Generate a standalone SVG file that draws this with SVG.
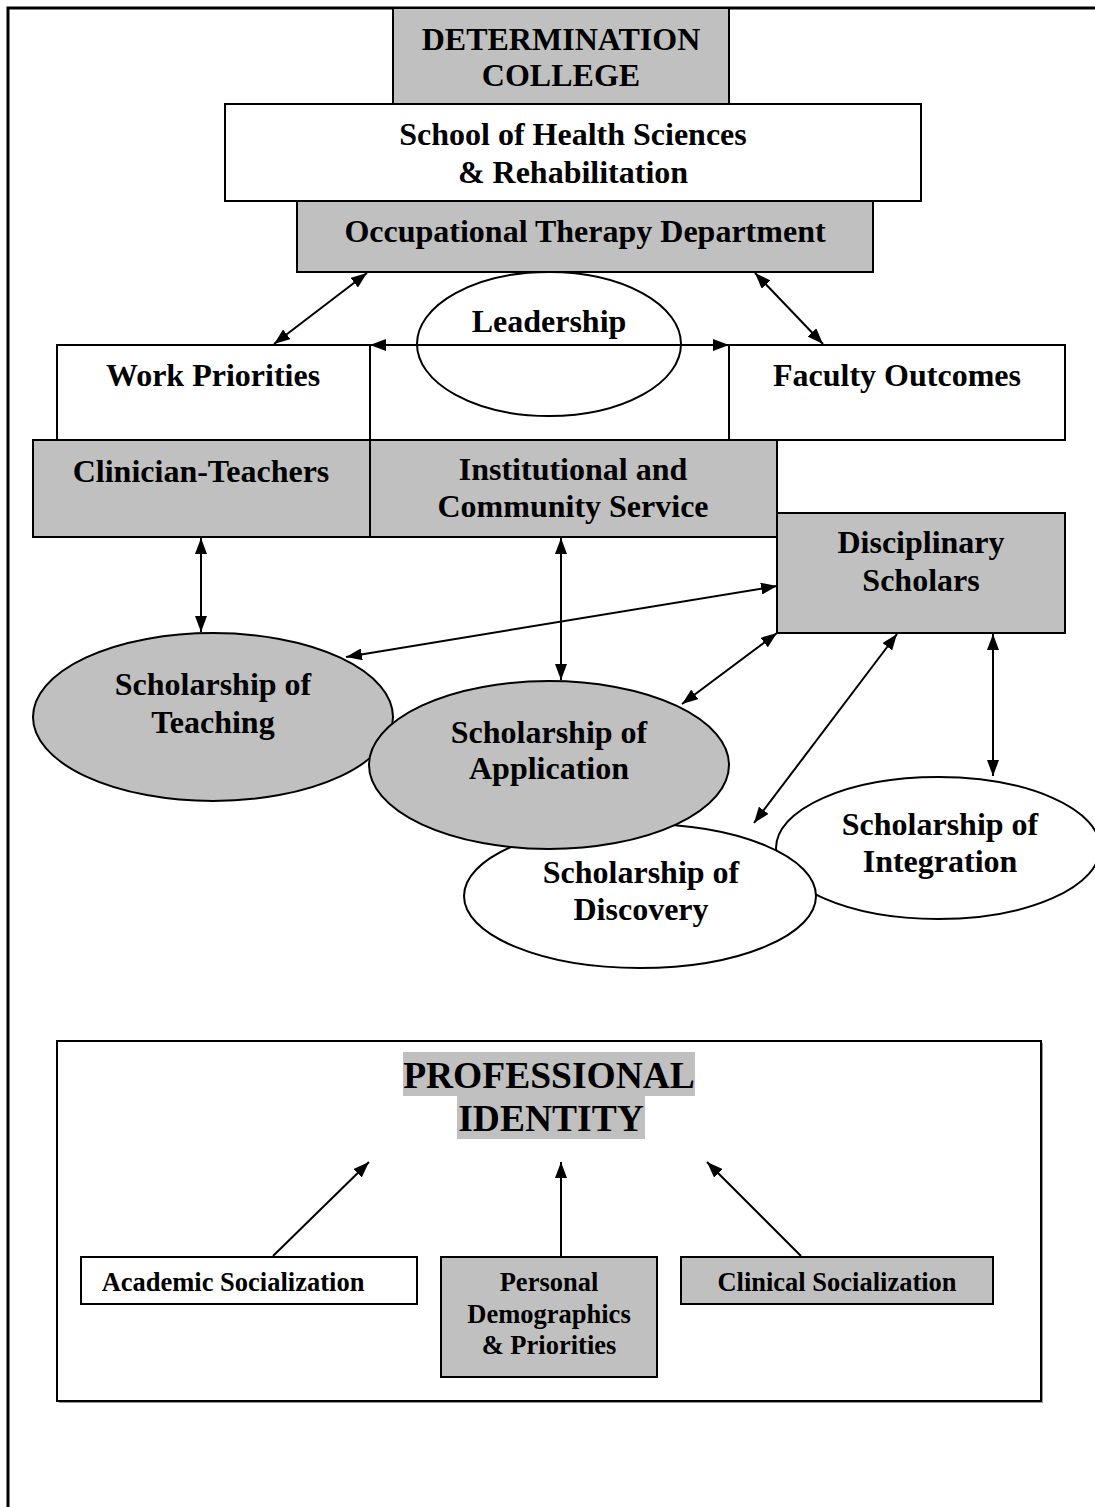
<svg xmlns="http://www.w3.org/2000/svg" width="1095" height="1507" viewBox="0 0 1095 1507">
<style>
.g{fill:#c0c0c0;stroke:#000;stroke-width:2}
.w{fill:#fff;stroke:#000;stroke-width:2}
.t{font-family:"Liberation Serif","Times New Roman",serif;font-weight:bold;font-size:32px;text-anchor:middle;fill:#000}
.s{font-size:26.5px}
.big{font-size:37.5px}
.c{stroke:#000;stroke-width:2;fill:none}
</style>
<defs>
<marker id="a" viewBox="0 0 16 12" refX="16" refY="6" markerWidth="16" markerHeight="12" markerUnits="userSpaceOnUse" orient="auto-start-reverse">
<path d="M0,0 L16,6 L0,12 z" fill="#000"/>
</marker>
</defs>
<rect width="1095" height="1507" fill="#fff"/>
<path d="M8,1507 V8 H1095" fill="none" stroke="#000" stroke-width="3"/>

<g id="college"><rect class="g" x="393" y="8" width="336" height="96"/>
<text class="t" x="561" y="50">DETERMINATION</text><text class="t" x="561" y="86">COLLEGE</text></g>
<g id="school"><rect class="w" x="225" y="104" width="696" height="97"/>
<text class="t" x="573" y="145">School of Health Sciences</text><text class="t" x="573" y="183">&amp; Rehabilitation</text></g>
<g id="otdept"><rect class="g" x="297" y="201" width="576" height="71"/>
<text class="t" x="585" y="242">Occupational Therapy Department</text></g>

<g id="workpriorities"><rect class="w" x="57" y="345" width="313" height="95"/>
<text class="t" x="213" y="386">Work Priorities</text></g>
<g id="middle"><rect class="w" x="370" y="345" width="359" height="95"/></g>
<g id="facultyoutcomes"><rect class="w" x="729" y="345" width="336" height="95"/>
<text class="t" x="897" y="386">Faculty Outcomes</text></g>
<g id="leadership"><ellipse cx="549" cy="344" rx="132" ry="72" fill="none" stroke="#000" stroke-width="2"/>
<text class="t" x="549" y="332">Leadership</text></g>

<g id="clinicianteachers"><rect class="g" x="33" y="440" width="337" height="97"/>
<text class="t" x="201" y="482">Clinician-Teachers</text></g>
<g id="service"><rect class="g" x="370" y="440" width="407" height="97"/>
<text class="t" x="573" y="480">Institutional and</text><text class="t" x="573" y="517">Community Service</text></g>
<g id="disciplinary"><rect class="g" x="777" y="513" width="288" height="120"/>
<text class="t" x="921" y="553">Disciplinary</text><text class="t" x="921" y="591">Scholars</text></g>

<g id="teaching"><ellipse class="g" cx="213" cy="717" rx="180" ry="84"/>
<text class="t" x="213" y="695">Scholarship of</text><text class="t" x="213" y="733">Teaching</text></g>
<g id="integration"><ellipse class="w" cx="938" cy="848" rx="162" ry="71"/>
<text class="t" x="940" y="835">Scholarship of</text><text class="t" x="940" y="872">Integration</text></g>
<g id="discovery"><ellipse class="w" cx="640" cy="896" rx="176" ry="72"/>
<text class="t" x="641" y="883">Scholarship of</text><text class="t" x="641" y="920">Discovery</text></g>
<g id="application"><ellipse class="g" cx="549" cy="765" rx="180" ry="84"/>
<text class="t" x="549" y="743">Scholarship of</text><text class="t" x="549" y="779">Application</text></g>

<g id="professionalidentity">
<rect x="59" y="1043" width="984" height="360" fill="#999"/>
<rect x="57" y="1041" width="984" height="360" fill="#fff" stroke="#000" stroke-width="2"/>
<rect x="403" y="1052" width="292" height="44" fill="#c0c0c0"/>
<rect x="457" y="1096" width="188" height="43" fill="#c0c0c0"/>
<text class="t big" x="549" y="1088">PROFESSIONAL</text>
<text class="t big" x="551" y="1131">IDENTITY</text>
</g>
<g id="academic"><rect class="w" x="81" y="1257" width="336" height="47"/>
<text class="t s" x="233" y="1291">Academic Socialization</text></g>
<g id="personal"><rect class="g" x="441" y="1257" width="216" height="120"/>
<text class="t s" x="549" y="1291">Personal</text><text class="t s" x="549" y="1323">Demographics</text><text class="t s" x="549" y="1354">&amp; Priorities</text></g>
<g id="clinical"><rect class="g" x="681" y="1257" width="312" height="47"/>
<text class="t s" x="837" y="1291">Clinical Socialization</text></g>

<g id="connectors">
<line class="c" x1="367" y1="273" x2="274" y2="344" marker-start="url(#a)" marker-end="url(#a)"/>
<line class="c" x1="755" y1="273" x2="823" y2="344" marker-start="url(#a)" marker-end="url(#a)"/>
<line class="c" x1="370" y1="345" x2="729" y2="345" marker-start="url(#a)" marker-end="url(#a)"/>
<line class="c" x1="201" y1="538" x2="201" y2="632" marker-start="url(#a)" marker-end="url(#a)"/>
<line class="c" x1="561" y1="538" x2="561" y2="680" marker-start="url(#a)" marker-end="url(#a)"/>
<line class="c" x1="777" y1="586" x2="346" y2="657" marker-start="url(#a)" marker-end="url(#a)"/>
<line class="c" x1="777" y1="633" x2="682" y2="704" marker-start="url(#a)" marker-end="url(#a)"/>
<line class="c" x1="897" y1="634" x2="754" y2="823" marker-start="url(#a)" marker-end="url(#a)"/>
<line class="c" x1="993" y1="634" x2="993" y2="776" marker-start="url(#a)" marker-end="url(#a)"/>
<line class="c" x1="273" y1="1256" x2="369" y2="1162" marker-end="url(#a)"/>
<line class="c" x1="561" y1="1256" x2="561" y2="1162" marker-end="url(#a)"/>
<line class="c" x1="801" y1="1256" x2="707" y2="1162" marker-end="url(#a)"/>
</g>
</svg>
